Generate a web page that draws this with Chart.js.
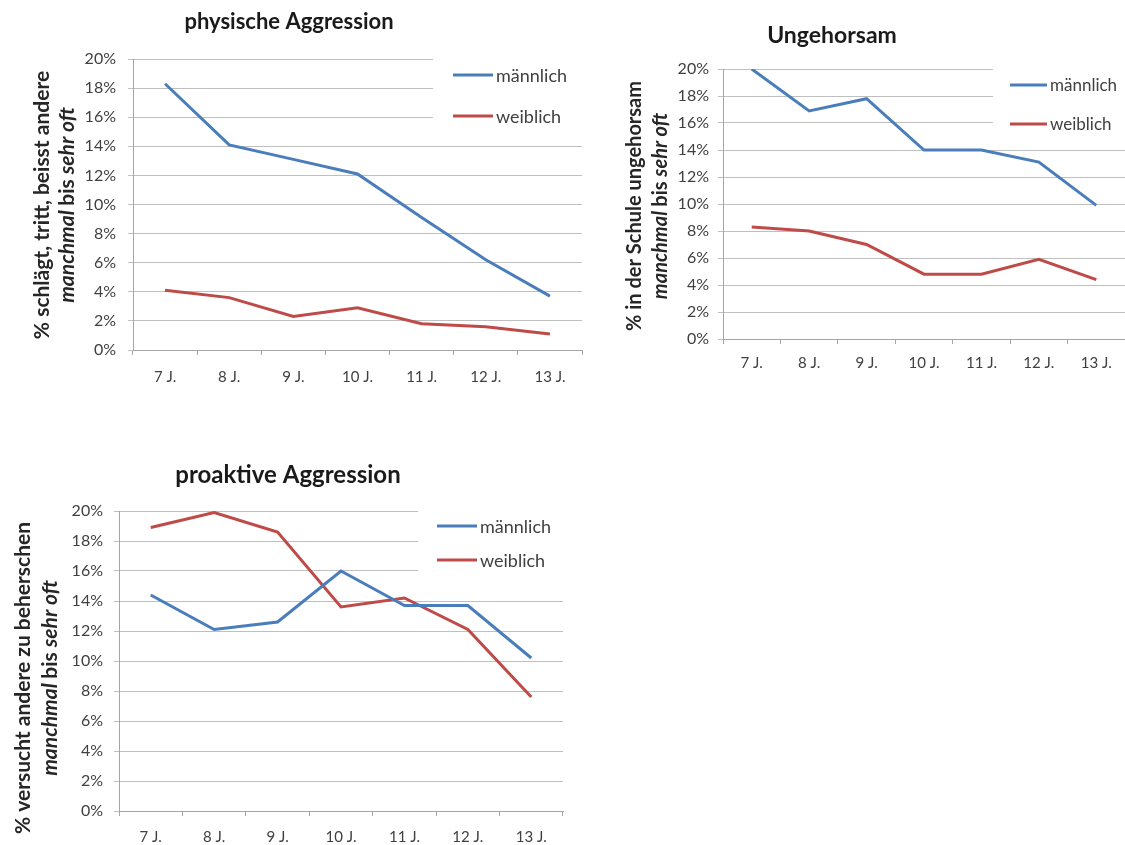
<!DOCTYPE html>
<html>
<head>
<meta charset="utf-8">
<title>Aggression und Ungehorsam nach Alter</title>
<script src="https://cdn.jsdelivr.net/npm/chart.js@4.4.1/dist/chart.umd.min.js"></script>
<style>
  body { margin: 0; background: #fff; width: 1125px; height: 845px; position: relative; overflow: hidden; }
  canvas { position: absolute; }
</style>
</head>
<body>
<canvas id="chart-phys" width="600" height="400" style="left:0;top:0"></canvas>
<canvas id="chart-disob" width="525" height="380" style="left:600px;top:0"></canvas>
<canvas id="chart-pro" width="600" height="400" style="left:0;top:445px"></canvas>

<script>
// data (percent)
const ageLabels = ['7 J.', '8 J.', '9 J.', '10 J.', '11 J.', '12 J.', '13 J.'];
const seriesNames = ['männlich', 'weiblich'];
const seriesColors = ['#4a7ebb', '#be4b48'];

const physMale = [18.3, 14.1, 13.1, 12.1, 9.1, 6.2, 3.7];
const physFemale = [4.1, 3.6, 2.3, 2.9, 1.8, 1.6, 1.1];

const disobMale = [20.0, 16.9, 17.8, 14.0, 14.0, 13.1, 9.9];
const disobFemale = [8.3, 8.0, 7.0, 4.8, 4.8, 5.9, 4.4];

const proMale = [14.4, 12.1, 12.6, 16.0, 13.7, 13.7, 10.2];
const proFemale = [18.9, 19.9, 18.6, 13.6, 14.2, 12.1, 7.6];

const yMin = 0;
const yMax = 20;
const yStep = 2;

const panelTitles = ['physische Aggression', 'Ungehorsam', 'proaktive Aggression'];
const axisTitles = [
    ['% schlägt, tritt, beisst andere', 'manchmal bis sehr oft'],
    ['% in der Schule ungehorsam', 'manchmal bis sehr oft'],
    ['% versucht andere zu beherschen', 'manchmal bis sehr oft']
];
// words of the second axis line that are not set in italics
const uprightWords = ['bis'];

const FONT = 'Lato, "Open Sans", sans-serif';

const chartService = function(){

    // legend drawn the Excel way: inside the plot, on a white patch over the grid
    const boxLegend = {
        id: 'boxLegend',
        afterDatasetsDraw(chart, args, opts) {
            let ctx = chart.ctx;
            ctx.save();
            ctx.fillStyle = '#fff';
            ctx.fillRect(opts.boxX, opts.boxY, chart.width - opts.boxX, opts.boxH);
            ctx.font = `${opts.size}px ${FONT}`;
            ctx.textBaseline = 'middle';
            ctx.textAlign = 'left';
            chart.data.datasets.forEach((ds, i) => {
                let y = opts.rows[i];
                ctx.strokeStyle = ds.borderColor;
                ctx.lineWidth = 3;
                ctx.beginPath();
                ctx.moveTo(opts.lineX, y);
                ctx.lineTo(opts.lineX + opts.lineLen, y);
                ctx.stroke();
                ctx.fillStyle = '#404040';
                ctx.fillText(ds.label, opts.lineX + opts.lineLen + 3, y + 1);
            });
            ctx.restore();
        }
    };

    // panel title and the two-line vertical axis title
    const panelText = {
        id: 'panelText',
        afterDraw(chart, args, opts) {
            let ctx = chart.ctx;
            ctx.save();
            ctx.fillStyle = '#1a1a1a';
            ctx.textAlign = 'center';
            ctx.textBaseline = 'middle';
            ctx.font = `bold ${opts.titleSize}px ${FONT}`;
            ctx.fillText(opts.title, opts.titleX, opts.titleY);

            ctx.fillStyle = '#262626';
            ctx.textAlign = 'left';
            opts.axisLines.forEach((line, i) => {
                // split into words so the second line can mix italic and upright
                let parts = line.split(' ').map((w, k, arr) => {
                    let italic = i === 1 && !uprightWords.includes(w);
                    let font = `${italic ? 'italic ' : ''}bold ${opts.axisSize}px ${FONT}`;
                    let text = k < arr.length - 1 ? w + ' ' : w;
                    ctx.font = font;
                    return { text, font, width: ctx.measureText(text).width };
                });
                let total = parts.reduce((s, p) => s + p.width, 0);

                ctx.save();
                ctx.translate(opts.axisX[i], opts.axisY);
                ctx.rotate(-Math.PI / 2);
                let x = -total / 2;
                for (const p of parts) {
                    ctx.font = p.font;
                    ctx.fillText(p.text, x, 0);
                    x += p.width;
                }
                ctx.restore();
            });
            ctx.restore();
        }
    };

    const getLineChart = function(canvasId, idx, male, female, geo){
        let context = document.getElementById(canvasId);

        let datasets = [male, female].map((data, i) => ({
            label: seriesNames[i],
            data,
            borderColor: seriesColors[i],
            backgroundColor: seriesColors[i],
            borderWidth: 3,
            pointRadius: 0,
            tension: 0,
            fill: false
        }));

        let options = {
            responsive: false,
            animation: false,
            events: [],
            layout: {
                padding: { top: geo.top, right: geo.right, bottom: 0, left: 0 }
            },
            plugins: {
                legend: { display: false },
                title: { display: false },
                tooltip: { enabled: false },
                boxLegend: geo.legend,
                panelText: {
                    title: panelTitles[idx],
                    titleX: geo.titleX,
                    titleY: geo.titleY,
                    titleSize: geo.titleSize,
                    axisLines: axisTitles[idx],
                    axisX: geo.axisX,
                    axisY: geo.axisY,
                    axisSize: geo.axisSize
                }
            },
            scales: {
                x: {
                    offset: true,
                    grid: {
                        offset: true,
                        drawOnChartArea: false,
                        tickLength: 5,
                        color: '#a6a6a6'
                    },
                    border: { color: '#a6a6a6' },
                    ticks: {
                        font: { family: FONT, size: 15 },
                        color: '#404040',
                        padding: geo.xPad,
                        maxRotation: 0,
                        autoSkip: false
                    },
                    afterFit: scale => { scale.height = geo.xHeight; }
                },
                y: {
                    min: yMin,
                    max: yMax,
                    ticks: {
                        stepSize: yStep,
                        callback: v => v + '%',
                        font: { family: FONT, size: 16 },
                        color: '#404040',
                        padding: geo.yPad
                    },
                    grid: { color: '#bfbfbf', tickLength: 5 },
                    border: { color: '#a6a6a6' },
                    afterFit: scale => { scale.width = geo.left; }
                }
            }
        };

        return new Chart(context, {
            type: 'line',
            data: { labels: ageLabels, datasets },
            options,
            plugins: [boxLegend, panelText]
        });
    };

    return { getLineChart };
}();

chartService.getLineChart('chart-phys', 0, physMale, physFemale, {
    top: 59, right: 18, left: 133, xHeight: 50, xPad: 13, yPad: 12,
    titleX: 289, titleY: 22, titleSize: 22,
    axisX: [42, 67], axisY: 205, axisSize: 21,
    legend: { boxX: 433, boxY: 52, boxH: 76, lineX: 453, lineLen: 40, rows: [75, 116], size: 18 }
});

chartService.getLineChart('chart-disob', 1, disobMale, disobFemale, {
    top: 69, right: 0, left: 123, xHeight: 41, xPad: 10, yPad: 9,
    titleX: 232, titleY: 36, titleSize: 23,
    axisX: [35, 61], axisY: 206, axisSize: 20,
    legend: { boxX: 393, boxY: 64, boxH: 76, lineX: 410, lineLen: 37, rows: [85, 124], size: 17 }
});

chartService.getLineChart('chart-pro', 2, proMale, proFemale, {
    top: 66, right: 37, left: 119, xHeight: 34, xPad: 12, yPad: 11,
    titleX: 288, titleY: 30, titleSize: 24,
    axisX: [23, 50], axisY: 233, axisSize: 21,
    legend: { boxX: 418, boxY: 60, boxH: 70, lineX: 437, lineLen: 40, rows: [81, 115], size: 18 }
});
</script>
</body>
</html>
